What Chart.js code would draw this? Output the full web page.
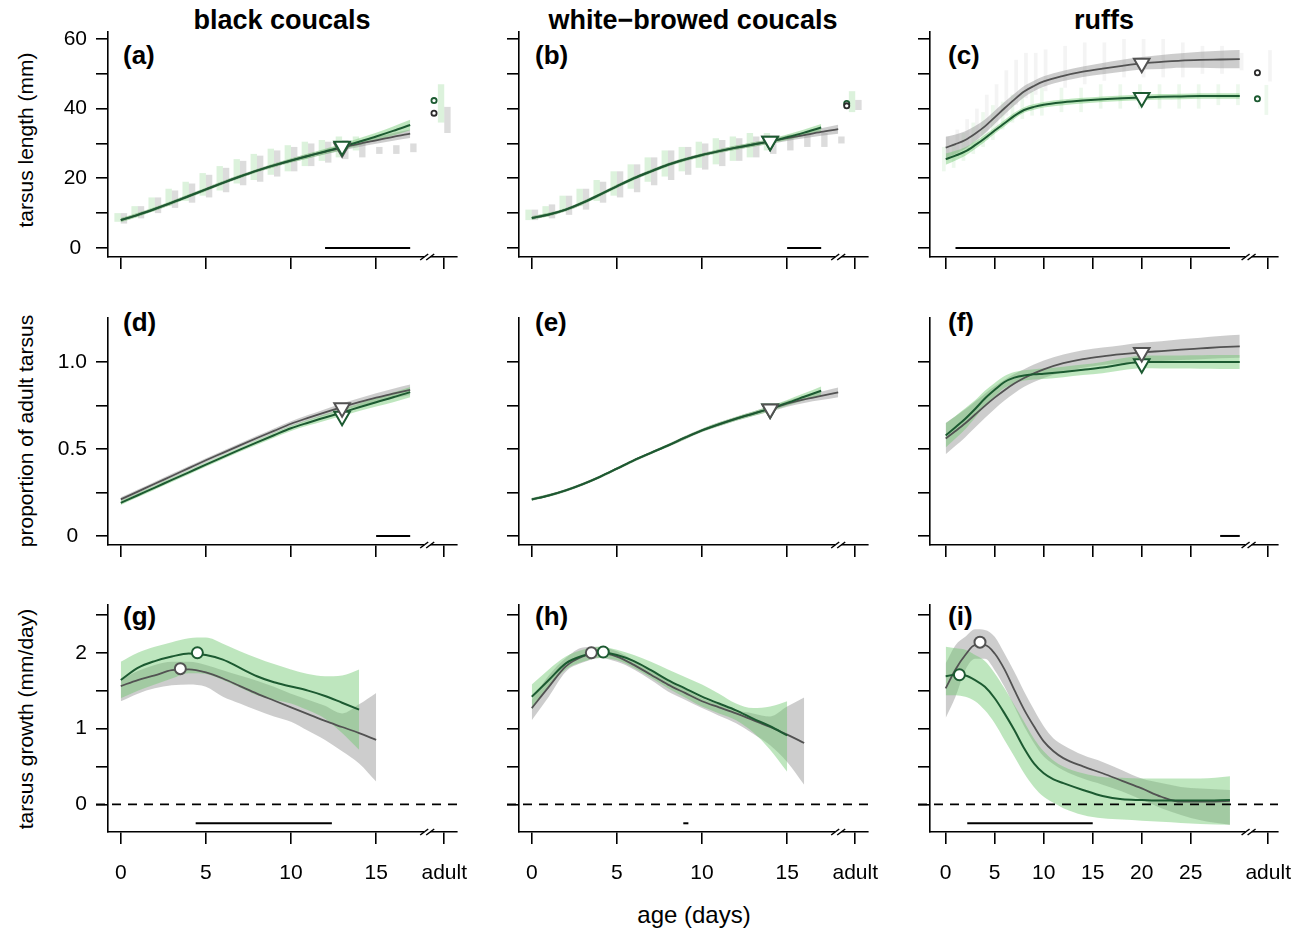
<!DOCTYPE html>
<html>
<head>
<meta charset="utf-8">
<script src="https://cdn.jsdelivr.net/npm/chart.js@4.4.1/dist/chart.umd.min.js"></script>
<style>
  body { margin: 0; background: #fff; width: 1304px; height: 936px; position: relative; overflow: hidden;
         font-family: "Liberation Sans", Arial, sans-serif; }
  canvas { position: absolute; }
  .t { position: absolute; white-space: nowrap; color: #000; line-height: 1; }
  .head { font-weight: bold; font-size: 27px; transform: translateX(-50%); }
  .lab { font-weight: bold; font-size: 26px; }
  .ytitle { font-size: 21px; transform: translate(-50%, -50%) rotate(-90deg); }
  .xtitle { font-size: 24px; transform: translateX(-50%); }
</style>
</head>
<body>
<div class="t head" style="left:282px;top:7px">black coucals</div>
<div class="t head" style="left:693px;top:7px">white−browed coucals</div>
<div class="t head" style="left:1104px;top:7px">ruffs</div>

<div class="t lab" style="left:123px;top:42px">(a)</div>
<div class="t lab" style="left:535px;top:42px">(b)</div>
<div class="t lab" style="left:948px;top:42px">(c)</div>
<div class="t lab" style="left:123px;top:309px">(d)</div>
<div class="t lab" style="left:535px;top:309px">(e)</div>
<div class="t lab" style="left:948px;top:309px">(f)</div>
<div class="t lab" style="left:123px;top:603px">(g)</div>
<div class="t lab" style="left:535px;top:603px">(h)</div>
<div class="t lab" style="left:948px;top:603px">(i)</div>

<div class="t ytitle" style="left:25px;top:140px">tarsus length (mm)</div>
<div class="t ytitle" style="left:25px;top:431px">proportion of adult tarsus</div>
<div class="t ytitle" style="left:25px;top:719px">tarsus growth (mm/day)</div>
<div class="t xtitle" style="left:694px;top:903px">age (days)</div>

<script>
// ---- axes / ticks ----
const xTicksCoucal = [0, 5, 10, 15];
const xTicksRuff = [0, 5, 10, 15, 20, 25];
const adultPosCoucal = 19;
const adultPosRuff = 32.9;
const breakCoucal = 18;
const breakRuff = 30.9;

const yTicksLength = [0, 10, 20, 30, 40, 50, 60];
const yLabelsLength = ['0', '', '20', '', '40', '', '60'];
const yTicksProp = [0, 0.25, 0.5, 0.75, 1];
const yLabelsProp = ['0', '', '0.5', '', '1.0'];
const yTicksGrowth = [0, 0.5, 1, 1.5, 2, 2.5];
const yLabelsGrowth = ['0', '', '1', '', '2', ''];

// ---- ages ----
const days0to14 = [0,1,2,3,4,5,6,7,8,9,10,11,12,13,14];
const days0to15 = [0,1,2,3,4,5,6,7,8,9,10,11,12,13,14,15];
const days0to16 = [0,1,2,3,4,5,6,7,8,9,10,11,12,13,14,15,16];
const days0to17 = [0,1,2,3,4,5,6,7,8,9,10,11,12,13,14,15,16,17];
const days0to18 = [0,1,2,3,4,5,6,7,8,9,10,11,12,13,14,15,16,17,18];
const daysRuff = [0,1,2,3,4,5,6,7,8,9,10,12,14,16,18,20,22,24,26,28,30];
const daysRuffGrowth = [0,1,2,3,4,5,6,7,8,9,10,11,12,14,16,18,20,22,24,26,29];

// ---- (a) black coucals, tarsus length ----
const aGreyMid  = [8.0,9.5,11.2,13.0,14.9,16.8,18.7,20.5,22.2,23.7,25.1,26.4,27.6,28.8,29.9,30.9,31.9,32.8];
const aGreyCi   = [0.5,0.5,0.5,0.5,0.5,0.5,0.5,0.5,0.5,0.55,0.6,0.65,0.7,0.8,0.9,1.0,1.1,1.2];
const aGreenMid = [8.0,9.5,11.2,13.0,14.9,16.8,18.7,20.5,22.2,23.7,25.1,26.4,27.7,29.0,30.5,32.0,33.6,35.3];
const aGreenCi  = [0.6,0.6,0.55,0.55,0.5,0.5,0.5,0.5,0.5,0.55,0.6,0.7,0.8,0.9,1.0,1.1,1.3,1.5];
const aGreyDotLo  = [7,8.5,10,11.5,13,14.5,16,18,19,20.5,22,23.5,24.5,25.5,26,27,27,27.5];
const aGreyDotHi  = [10,12,14.5,16.5,18.5,21,23,25,26.5,28,29,30,30.5,31,31,29,29.5,30];
const aGreenDotLo = [7.5,9,10.5,12,13.5,15,16.5,18.5,19.5,21,22,23.5,25,26,28];
const aGreenDotHi = [10,12,14.5,17,19,21.5,23.5,25.5,27,28.5,29.5,30.5,31,32,32];
const aAdultGrey = [33, 40.5];
const aAdultGreen = [36, 47];
const aAdultMeanGrey = [18.4, 38.7];
const aAdultMeanGreen = [18.4, 42.3];
const aGreyMark = [13, 28.8];
const aGreenMark = [13, 29.2];
const aSig = [12, 17];

// ---- (b) white-browed coucals, tarsus length ----
const bGreyMid  = [8.6,9.6,11.0,13.0,15.3,17.7,20.0,22.0,23.9,25.4,26.7,27.8,28.8,29.7,30.6,31.5,32.4,33.3,34.1];
const bGreyCi   = [0.5,0.5,0.5,0.5,0.5,0.5,0.5,0.5,0.5,0.5,0.5,0.55,0.6,0.65,0.7,0.8,0.9,1.1,1.3];
const bGreenMid = [8.6,9.6,11.0,13.0,15.3,17.7,20.0,22.0,23.9,25.4,26.7,27.8,28.8,29.7,30.6,31.8,33.1,34.6];
const bGreenCi  = [0.5,0.5,0.5,0.5,0.5,0.5,0.5,0.5,0.5,0.5,0.5,0.55,0.6,0.65,0.7,0.8,0.9,1.0];
const bGreyDotLo  = [8,8.5,9.5,11,13,14.5,16,18,19.5,21,22.5,23.5,25,26,27,28,29,29,30];
const bGreyDotHi  = [11,12.5,15,17,19,22,24,26,28,29,30,31,31.5,32,32,32.5,33,33,32];
const bGreenDotLo = [8,9,10.5,12,13.5,15,17,19,20.5,22,23,24,25,26,28];
const bGreenDotHi = [11,12,15,17,19.5,22,24,26,28,29,30.5,31.5,32,33,33];
const bAdultGrey = [39.6, 42.5];
const bAdultGreen = [39, 45];
const bAdultMeanGrey = [18.5, 40.8];
const bAdultMeanGreen = [18.5, 41.5];
const bGreyMark = [14, 30.6];
const bGreenMark = [14, 30.6];
const bSig = [15, 17];

// ---- (c) ruffs, tarsus length ----
const cGreyMid  = [28.8,29.8,31.0,32.8,34.9,37.5,40.1,42.6,44.9,46.5,47.8,49.4,50.6,51.5,52.3,53.0,53.4,53.8,54.0,54.1,54.2];
const cGreyCi   = [3.1,2.8,2.5,2.2,2.0,1.9,1.8,1.7,1.6,1.5,1.5,1.5,1.5,1.6,1.7,1.8,2.0,2.1,2.3,2.5,2.6];
const cGreenMid = [25.5,26.5,27.7,29.5,31.5,33.7,35.8,37.9,39.6,40.5,41.1,41.8,42.3,42.7,43.0,43.2,43.4,43.5,43.6,43.6,43.6];
const cGreenCi  = [1.6,1.4,1.2,1.1,1.0,0.9,0.9,0.9,0.8,0.8,0.8,0.8,0.8,0.8,0.8,0.8,0.8,0.8,0.8,0.8,0.8];
const cGreyDotLo  = [25,26,28,30,31,34,38,41,43,44,45,46,47,48,49,49,49,49,50,50,51];
const cGreyDotHi  = [32,34,37,40,44,47,51,54,56,56,57,58,59,59,60,60,60,59,58,58,56];
const cGreenDotLo = [22,23,25,27,29,31,34,36,37,38,38,39,39,40,40,40,40,40,40,41,41];
const cGreenDotHi = [29,30,33,36,39,41,42,44,45,45,46,46,46,47,47,47,47,47,47,47,47];
const cAdultGrey = [47.8, 56.8];
const cAdultGreen = [38.2, 46.8];
const cAdultMeanGrey = [31.8, 50.3];
const cAdultMeanGreen = [31.8, 42.8];
const cGreyMark = [20, 53.0];
const cGreenMark = [20, 43.2];
const cSig = [1, 29];

// ---- (d) black coucals, proportion ----
const dGreyMid  = [0.21,0.255,0.30,0.345,0.39,0.435,0.478,0.521,0.563,0.604,0.645,0.679,0.711,0.741,0.769,0.795,0.818,0.84];
const dGreyCi   = [0.012,0.012,0.012,0.012,0.012,0.012,0.012,0.012,0.013,0.014,0.015,0.016,0.018,0.02,0.022,0.025,0.028,0.03];
const dGreenMid = [0.19,0.234,0.278,0.322,0.366,0.41,0.453,0.496,0.538,0.579,0.619,0.651,0.681,0.71,0.74,0.769,0.797,0.827];
const dGreenCi  = [0.012,0.012,0.012,0.012,0.012,0.012,0.012,0.012,0.013,0.014,0.015,0.016,0.018,0.02,0.022,0.025,0.028,0.03];
const dGreyMark = [13, 0.737];
const dGreenMark = [13, 0.688];
const dSig = [15, 17];

// ---- (e) white-browed coucals, proportion ----
const eGreyMid  = [0.21,0.233,0.262,0.298,0.34,0.387,0.435,0.478,0.52,0.565,0.607,0.642,0.674,0.703,0.73,0.76,0.785,0.805,0.825];
const eGreyCi   = [0.008,0.008,0.008,0.008,0.008,0.008,0.008,0.008,0.009,0.01,0.01,0.011,0.012,0.013,0.015,0.017,0.02,0.024,0.028];
const eGreenMid = [0.21,0.233,0.262,0.298,0.34,0.387,0.435,0.478,0.52,0.565,0.607,0.642,0.674,0.703,0.732,0.765,0.80,0.835];
const eGreenCi  = [0.008,0.008,0.008,0.008,0.008,0.008,0.008,0.008,0.009,0.01,0.01,0.011,0.012,0.013,0.015,0.017,0.02,0.024];
const eGreyMark = [14, 0.73];
const eGreenMark = [14, 0.73];

// ---- (f) ruffs, proportion ----
const fGreyMid  = [0.56,0.603,0.648,0.698,0.748,0.795,0.838,0.876,0.908,0.935,0.958,0.993,1.017,1.033,1.045,1.055,1.063,1.071,1.078,1.085,1.09];
const fGreyCi   = [0.09,0.085,0.08,0.075,0.07,0.065,0.06,0.055,0.05,0.05,0.05,0.05,0.05,0.05,0.052,0.055,0.057,0.06,0.062,0.064,0.066];
const fGreenMid = [0.578,0.625,0.674,0.73,0.79,0.84,0.885,0.91,0.923,0.929,0.933,0.943,0.955,0.968,0.987,1.0,1.0,1.0,1.0,1.0,1.0];
const fGreenCi  = [0.07,0.065,0.06,0.05,0.045,0.04,0.035,0.033,0.03,0.03,0.03,0.03,0.03,0.032,0.034,0.036,0.037,0.038,0.039,0.04,0.04];
const fGreyMark = [20, 1.054];
const fGreenMark = [20, 0.99];
const fSig = [28, 30];

// ---- (g) black coucals, growth ----
const gGreyMid  = [1.56,1.64,1.70,1.77,1.78,1.74,1.66,1.56,1.46,1.37,1.28,1.19,1.10,1.02,0.94,0.85];
const gGreyHi   = [1.64,1.76,1.84,1.88,1.88,1.84,1.77,1.70,1.63,1.55,1.46,1.38,1.30,1.20,1.32,1.47];
const gGreyLo   = [1.36,1.46,1.53,1.57,1.58,1.55,1.42,1.33,1.24,1.16,1.09,0.97,0.85,0.70,0.54,0.30];
const gGreenMid = [1.64,1.80,1.89,1.95,1.99,1.97,1.91,1.80,1.69,1.61,1.555,1.50,1.43,1.34,1.25];
const gGreenHi  = [1.88,2.00,2.08,2.14,2.19,2.20,2.12,2.02,1.93,1.85,1.78,1.72,1.69,1.70,1.78];
const gGreenLo  = [1.40,1.50,1.58,1.66,1.73,1.72,1.64,1.54,1.44,1.38,1.33,1.24,1.13,0.94,0.72];
const gGreyMark = [3.5, 1.79];
const gGreenMark = [4.5, 2.0];
const gSig = [4.4, 12.4];

// ---- (h) white-browed coucals, growth ----
const hGreyMid  = [1.27,1.55,1.82,1.95,2.0,1.95,1.84,1.71,1.58,1.47,1.36,1.28,1.20,1.11,1.02,0.92,0.81];
const hGreyHi   = [1.38,1.70,1.93,2.07,2.08,2.02,1.90,1.77,1.64,1.52,1.40,1.32,1.24,1.20,1.16,1.29,1.41];
const hGreyLo   = [1.11,1.42,1.75,1.87,1.93,1.88,1.78,1.64,1.49,1.38,1.27,1.17,1.07,0.93,0.78,0.56,0.26];
const hGreenMid = [1.42,1.64,1.86,1.96,2.01,1.97,1.89,1.77,1.64,1.53,1.42,1.33,1.24,1.13,1.03,0.91];
const hGreenHi  = [1.58,1.78,1.95,2.04,2.08,2.04,1.97,1.88,1.78,1.68,1.58,1.46,1.33,1.27,1.29,1.36];
const hGreenLo  = [1.25,1.55,1.78,1.88,1.93,1.90,1.80,1.67,1.53,1.41,1.29,1.20,1.11,0.95,0.72,0.43];
const hGreyMark = [3.5, 2.0];
const hGreenMark = [4.2, 2.01];
const hSig = [8.9, 9.2];

// ---- (i) ruffs, growth ----
const iGreyMid  = [1.53,1.78,1.97,2.10,2.10,1.99,1.78,1.51,1.25,1.03,0.83,0.70,0.61,0.50,0.41,0.31,0.21,0.10,0.035,0.035,0.045];
const iGreyHi   = [1.86,2.10,2.21,2.31,2.30,2.21,1.99,1.75,1.49,1.25,1.03,0.87,0.78,0.65,0.56,0.45,0.34,0.28,0.23,0.21,0.19];
const iGreyLo   = [1.14,1.42,1.77,1.92,1.92,1.77,1.55,1.29,1.03,0.81,0.63,0.53,0.45,0.34,0.26,0.17,0.06,-0.05,-0.14,-0.21,-0.27];
const iGreenMid = [1.69,1.71,1.70,1.64,1.55,1.40,1.20,0.98,0.74,0.54,0.41,0.33,0.28,0.19,0.11,0.066,0.057,0.05,0.05,0.05,0.057];
const iGreenHi  = [2.08,2.06,2.04,1.97,1.89,1.73,1.53,1.31,1.09,0.87,0.70,0.58,0.50,0.41,0.36,0.35,0.34,0.34,0.34,0.34,0.37];
const iGreenLo  = [1.44,1.44,1.42,1.36,1.24,1.07,0.85,0.63,0.41,0.23,0.10,0.02,-0.05,-0.14,-0.185,-0.20,-0.215,-0.23,-0.245,-0.26,-0.27];
const iGreyMark = [3.5, 2.14];
const iGreenMark = [1.4, 1.71];
const iSig = [2.2, 15];

const sigLevel = [0, 0, -0.25];

// ---- layout & style ----
const colLeft = [108, 519, 930];
const colRight = [457, 868, 1278];
const rowTop = [32, 318, 605];
const rowBottom = [257, 545, 832];
const colRange = [[-0.75, 19.75], [-0.75, 19.75], [-1.6, 33.9]];
const rowRange = [[-2.6, 62], [-0.052, 1.253], [-0.365, 2.63]];
const rowTicks = [[yTicksLength, yLabelsLength], [yTicksProp, yLabelsProp], [yTicksGrowth, yLabelsGrowth]];
const colTicks = [[xTicksCoucal, adultPosCoucal, breakCoucal], [xTicksCoucal, adultPosCoucal, breakCoucal], [xTicksRuff, adultPosRuff, breakRuff]];

const greyLine = '#525252';
const greenLine = '#1c5a31';
const greyBand = 'rgba(150,150,150,0.48)';
const greenBand = 'rgba(110,200,110,0.45)';
const greyDot = 'rgba(95,95,95,0.22)';
const greenDot = 'rgba(80,190,80,0.2)';

Chart.defaults.font.family = '"Liberation Sans", Arial, sans-serif';
Chart.defaults.font.size = 21;
Chart.defaults.color = '#000';

const deco = {
  id: 'deco',
  afterDatasetsDraw(chart, args, opts) {
    if (!opts.zero) return;
    const { ctx, chartArea: a, scales: { y } } = chart;
    const py = y.getPixelForValue(0);
    ctx.save();
    ctx.setLineDash([9, 7]);
    ctx.lineWidth = 1.8;
    ctx.strokeStyle = '#000';
    ctx.beginPath();
    ctx.moveTo(a.left - 12, py);
    ctx.lineTo(a.right, py);
    ctx.stroke();
    ctx.restore();
  },
  afterDraw(chart, args, opts) {
    const { ctx, chartArea: a, scales: { x } } = chart;
    const bx = x.getPixelForValue(opts.brk), by = a.bottom;
    ctx.save();
    ctx.fillStyle = '#fff';
    ctx.fillRect(bx - 3, by - 2, 6, 4);
    ctx.strokeStyle = '#000';
    ctx.lineWidth = 1.5;
    [-3, 3].forEach(o => {
      ctx.beginPath();
      ctx.moveTo(bx + o - 4, by + 3);
      ctx.lineTo(bx + o + 4, by - 3);
      ctx.stroke();
    });
    ctx.restore();
  }
};

function xy(xs, ys) { return xs.map((x, i) => ({ x: x, y: ys[i] })); }

function lineDs(data, color, width, order) {
  return { type: 'line', data: data, borderColor: color, borderWidth: width, pointRadius: 0,
           fill: false, cubicInterpolationMode: 'monotone', order: order };
}

function bandDs(hi, lo, color, order) {
  return [
    { type: 'line', data: hi, borderWidth: 0, borderColor: 'transparent', pointRadius: 0,
      backgroundColor: color, fill: '+1', cubicInterpolationMode: 'monotone', order: order },
    { type: 'line', data: lo, borderWidth: 0, borderColor: 'transparent', pointRadius: 0,
      fill: false, cubicInterpolationMode: 'monotone', order: order }
  ];
}

function markDs(pt, color, style, radius, width, order) {
  return { type: 'line', data: [{ x: pt[0], y: pt[1] }], showLine: false, pointStyle: style,
           pointRotation: style === 'triangle' ? 180 : 0, pointRadius: radius,
           pointBackgroundColor: '#fff', pointBorderColor: color, pointBorderWidth: width, order: order };
}

function dotDs(xs, lo, hi, adultX, adultRange, color) {
  const data = xs.map((x, i) => ({ x: x, y: [lo[i], hi[i]] }));
  data.push({ x: adultX, y: adultRange });
  return { type: 'bar', data: data, backgroundColor: color, borderWidth: 0,
           categoryPercentage: 0.75, barPercentage: 1, order: 6 };
}

const panels = [
  { col: 0, row: 0,
    grey: { x: days0to17, mid: aGreyMid, ci: aGreyCi, mark: aGreyMark },
    green: { x: days0to17, mid: aGreenMid, ci: aGreenCi, mark: aGreenMark },
    dots: { grey: [days0to17, aGreyDotLo, aGreyDotHi, aAdultGrey], green: [days0to14, aGreenDotLo, aGreenDotHi, aAdultGreen],
            meanGrey: aAdultMeanGrey, meanGreen: aAdultMeanGreen },
    sig: aSig },
  { col: 1, row: 0,
    grey: { x: days0to18, mid: bGreyMid, ci: bGreyCi, mark: bGreyMark },
    green: { x: days0to17, mid: bGreenMid, ci: bGreenCi, mark: bGreenMark },
    dots: { grey: [days0to18, bGreyDotLo, bGreyDotHi, bAdultGrey], green: [days0to14, bGreenDotLo, bGreenDotHi, bAdultGreen],
            meanGrey: bAdultMeanGrey, meanGreen: bAdultMeanGreen },
    sig: bSig },
  { col: 2, row: 0,
    grey: { x: daysRuff, mid: cGreyMid, ci: cGreyCi, mark: cGreyMark },
    green: { x: daysRuff, mid: cGreenMid, ci: cGreenCi, mark: cGreenMark },
    dots: { grey: [daysRuff, cGreyDotLo, cGreyDotHi, cAdultGrey], green: [daysRuff, cGreenDotLo, cGreenDotHi, cAdultGreen],
            meanGrey: cAdultMeanGrey, meanGreen: cAdultMeanGreen, faint: true },
    sig: cSig },
  { col: 0, row: 1,
    grey: { x: days0to17, mid: dGreyMid, ci: dGreyCi, mark: dGreyMark },
    green: { x: days0to17, mid: dGreenMid, ci: dGreenCi, mark: dGreenMark },
    sig: dSig, greyTop: true },
  { col: 1, row: 1,
    grey: { x: days0to18, mid: eGreyMid, ci: eGreyCi, mark: eGreyMark },
    green: { x: days0to17, mid: eGreenMid, ci: eGreenCi, mark: eGreenMark },
    greyTop: true },
  { col: 2, row: 1,
    grey: { x: daysRuff, mid: fGreyMid, ci: fGreyCi, mark: fGreyMark },
    green: { x: daysRuff, mid: fGreenMid, ci: fGreenCi, mark: fGreenMark },
    sig: fSig, greyTop: true },
  { col: 0, row: 2,
    grey: { x: days0to15, mid: gGreyMid, lo: gGreyLo, hi: gGreyHi, mark: gGreyMark },
    green: { x: days0to14, mid: gGreenMid, lo: gGreenLo, hi: gGreenHi, mark: gGreenMark },
    sig: gSig },
  { col: 1, row: 2,
    grey: { x: days0to16, mid: hGreyMid, lo: hGreyLo, hi: hGreyHi, mark: hGreyMark },
    green: { x: days0to15, mid: hGreenMid, lo: hGreenLo, hi: hGreenHi, mark: hGreenMark },
    sig: hSig },
  { col: 2, row: 2,
    grey: { x: daysRuffGrowth, mid: iGreyMid, lo: iGreyLo, hi: iGreyHi, mark: iGreyMark },
    green: { x: daysRuffGrowth, mid: iGreenMid, lo: iGreenLo, hi: iGreenHi, mark: iGreenMark },
    sig: iSig }
];

function buildPanel(p) {
  const L = 100, T = 20, R = 30, B = 60;
  const left = colLeft[p.col] - L, top = rowTop[p.row] - T;
  const w = colRight[p.col] + R - left, h = rowBottom[p.row] + B - top;
  const cv = document.createElement('canvas');
  cv.width = w; cv.height = h;
  cv.style.left = left + 'px'; cv.style.top = top + 'px';
  document.body.appendChild(cv);

  const lo = s => s.lo || s.mid.map((v, i) => v - s.ci[i]);
  const hi = s => s.hi || s.mid.map((v, i) => v + s.ci[i]);
  const g = p.grey, gr = p.green;
  const growth = p.row === 2;
  const style = growth ? 'circle' : 'triangle';
  const rad = growth ? 5.5 : 9;
  const [xt, adultX, brk] = colTicks[p.col];
  const [yt, yl] = rowTicks[p.row];

  const ds = [];
  ds.push(...bandDs(xy(gr.x, hi(gr)), xy(gr.x, lo(gr)), greenBand, 4));
  ds.push(...bandDs(xy(g.x, hi(g)), xy(g.x, lo(g)), greyBand, 5));
  ds.push(lineDs(xy(g.x, g.mid), greyLine, 1.8, 3));
  ds.push(lineDs(xy(gr.x, gr.mid), greenLine, 2, 2));
  ds.push(markDs(g.mark, greyLine, style, rad, 2, p.greyTop ? 0.5 : 1.5));
  ds.push(markDs(gr.mark, greenLine, style, rad, 2, 1));
  if (p.sig) {
    const lv = sigLevel[p.row];
    ds.push(lineDs([{ x: p.sig[0], y: lv }, { x: p.sig[1], y: lv }], '#000', 2, 0));
  }
  if (p.dots) {
    const d = p.dots;
    ds.push(dotDs(d.green[0], d.green[1], d.green[2], adultX, d.green[3],
                  d.faint ? 'rgba(80,190,80,0.1)' : greenDot));
    ds.push(dotDs(d.grey[0], d.grey[1], d.grey[2], adultX, d.grey[3],
                  d.faint ? 'rgba(100,100,100,0.07)' : greyDot));
    ds.push(markDs(d.meanGrey, '#2a2a2a', 'circle', 2.6, 1.8, 1));
    ds.push(markDs(d.meanGreen, greenLine, 'circle', 2.6, 1.8, 1));
  }

  new Chart(cv, {
    type: 'line',
    data: { datasets: ds },
    plugins: [deco],
    options: {
      responsive: false,
      animation: false,
      events: [],
      layout: { autoPadding: false, padding: { left: 0, top: T, right: R, bottom: 0 } },
      plugins: { legend: { display: false }, tooltip: { enabled: false },
                 deco: { zero: growth, brk: brk } },
      scales: {
        x: {
          type: 'linear', min: colRange[p.col][0], max: colRange[p.col][1], offset: false,
          grid: { display: true, offset: false, drawOnChartArea: false, drawTicks: true, tickLength: 12,
                  color: '#000', tickColor: '#000', lineWidth: 1.6 },
          border: { display: true, color: '#000', width: 1.6 },
          ticks: { autoSkip: false, maxRotation: 0, minRotation: 0, padding: 17, color: '#000',
                   callback: v => growth ? (v === adultX ? 'adult' : String(v)) : '' },
          afterBuildTicks: s => { s.ticks = xt.concat([adultX]).map(v => ({ value: v })); },
          afterFit: s => { s.height = B; s.paddingLeft = 0; s.paddingRight = 0; }
        },
        y: {
          type: 'linear', position: 'left', min: rowRange[p.row][0], max: rowRange[p.row][1],
          grid: { display: true, drawOnChartArea: false, drawTicks: true, tickLength: 12,
                  color: '#000', tickColor: '#000', lineWidth: 1.6 },
          border: { display: true, color: '#000', width: 1.6 },
          ticks: { autoSkip: false, padding: 9, crossAlign: 'center', color: '#000',
                   callback: (v, i) => p.col === 0 ? yl[i] : '' },
          afterBuildTicks: s => { s.ticks = yt.map(v => ({ value: v })); },
          afterFit: s => { s.width = L; s.paddingTop = 0; s.paddingBottom = 0; }
        }
      }
    }
  });
}

panels.forEach(buildPanel);
</script>
</body>
</html>
